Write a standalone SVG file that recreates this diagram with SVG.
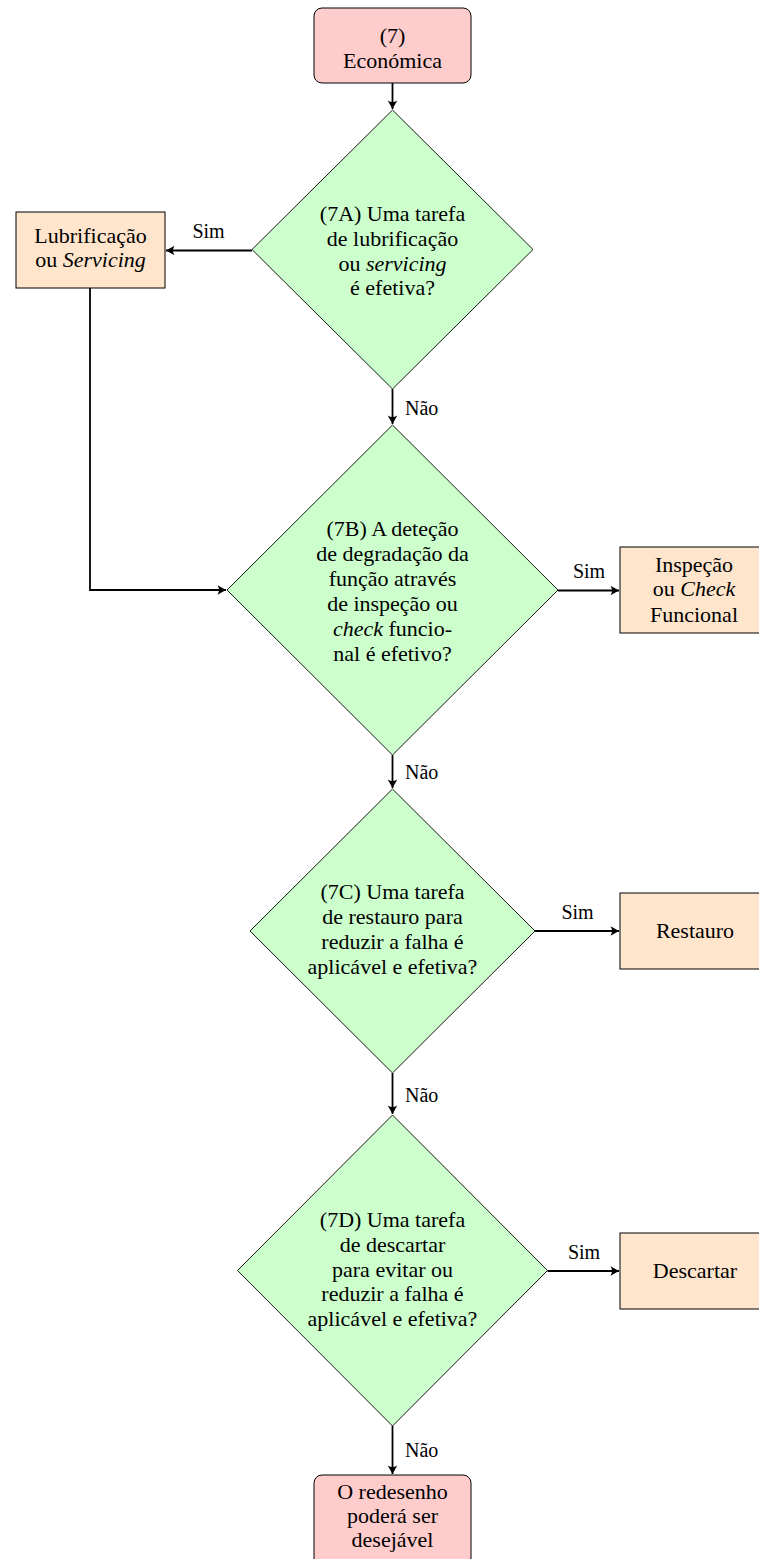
<svg xmlns="http://www.w3.org/2000/svg" width="759" height="1559" viewBox="0 0 759 1559">
<style>
.term{fill:#FFCCCC;stroke:#000;stroke-width:1}
.proc{fill:#FFE5CC;stroke:#000;stroke-width:1}
.dec{fill:#CCFFCC;stroke:#000;stroke-width:0.9}
text{font-family:"Liberation Serif","Times New Roman",serif;font-size:22px;fill:#000;text-anchor:middle}
.lbl{font-size:20px;text-anchor:start}
.lblc{font-size:20px}
.it{font-style:italic}
.conn{fill:none;stroke:#000;stroke-width:1.8}
</style>
<defs>
<marker id="ah" markerUnits="userSpaceOnUse" markerWidth="12" markerHeight="12" viewBox="-10 -6 12 12" refX="0" refY="0" orient="auto">
<path d="M0,0 L-8.5,-4.8 Q-5.5,0 -8.5,4.8 Z" fill="#000"/>
</marker>
</defs>
<g id="connectors">
<path class="conn" d="M392.5,83 V109" marker-end="url(#ah)"/>
<path class="conn" d="M252,250.5 H166" marker-end="url(#ah)"/>
<path class="conn" d="M392.5,389 V424" marker-end="url(#ah)"/>
<path class="conn" d="M90,288 V590 H226" marker-end="url(#ah)"/>
<path class="conn" d="M558,590.5 H619" marker-end="url(#ah)"/>
<path class="conn" d="M392.5,755 V788" marker-end="url(#ah)"/>
<path class="conn" d="M535,931 H619" marker-end="url(#ah)"/>
<path class="conn" d="M392.5,1073 V1114" marker-end="url(#ah)"/>
<path class="conn" d="M547.5,1271 H619" marker-end="url(#ah)"/>
<path class="conn" d="M392.5,1426 V1474" marker-end="url(#ah)"/>
<text class="lblc" x="208.5" y="238">Sim</text>
<text class="lbl" x="405" y="415">Não</text>
<text class="lblc" x="589" y="577.5">Sim</text>
<text class="lbl" x="405" y="779">Não</text>
<text class="lblc" x="577.5" y="919">Sim</text>
<text class="lbl" x="405" y="1102">Não</text>
<text class="lblc" x="584" y="1259">Sim</text>
<text class="lbl" x="405" y="1457">Não</text>
</g>
<g id="n7">
<rect class="term" x="314" y="8" width="157" height="75" rx="8"/>
<text x="392.5" y="43">(7)</text>
<text x="392.5" y="68">Económica</text>
</g>
<g id="n7A">
<polygon class="dec" points="392.5,110 533,249.5 392.5,389 252,249.5"/>
<text x="392.5" y="221">(7A) Uma tarefa</text>
<text x="392.5" y="246">de lubrificação</text>
<text x="392.5" y="270.5">ou <tspan class="it">servicing</tspan></text>
<text x="392.5" y="295">é efetiva?</text>
</g>
<g id="nLub">
<rect class="proc" x="16" y="212" width="149" height="76"/>
<text x="90.5" y="243">Lubrificação</text>
<text x="90.5" y="267">ou <tspan class="it">Servicing</tspan></text>
</g>
<g id="n7B">
<polygon class="dec" points="392.5,425 558,590 392.5,755 227,590"/>
<text x="392.5" y="536">(7B) A deteção</text>
<text x="392.5" y="561">de degradação da</text>
<text x="392.5" y="586">função através</text>
<text x="392.5" y="610.5">de inspeção ou</text>
<text x="392.5" y="636"><tspan class="it">check</tspan> funcio-</text>
<text x="392.5" y="660.5">nal é efetivo?</text>
</g>
<g id="nInsp">
<rect class="proc" x="620" y="547" width="150" height="86"/>
<text x="694" y="572">Inspeção</text>
<text x="694" y="596">ou <tspan class="it">Check</tspan></text>
<text x="694" y="621.5">Funcional</text>
</g>
<g id="n7C">
<polygon class="dec" points="392.5,789 535,931 392.5,1073 250,931"/>
<text x="392.5" y="899">(7C) Uma tarefa</text>
<text x="392.5" y="924">de restauro para</text>
<text x="392.5" y="949">reduzir a falha é</text>
<text x="392.5" y="974">aplicável e efetiva?</text>
</g>
<g id="nRest">
<rect class="proc" x="620" y="893" width="150" height="76"/>
<text x="695" y="938">Restauro</text>
</g>
<g id="n7D">
<polygon class="dec" points="392.5,1115 547.5,1270.5 392.5,1426 237.5,1270.5"/>
<text x="392.5" y="1227">(7D) Uma tarefa</text>
<text x="392.5" y="1252">de descartar</text>
<text x="392.5" y="1276.5">para evitar ou</text>
<text x="392.5" y="1301">reduzir a falha é</text>
<text x="392.5" y="1326">aplicável e efetiva?</text>
</g>
<g id="nDesc">
<rect class="proc" x="620" y="1233" width="150" height="76"/>
<text x="695" y="1278">Descartar</text>
</g>
<g id="nRedes">
<rect class="term" x="314" y="1475" width="157" height="100" rx="8"/>
<text x="392.5" y="1499">O redesenho</text>
<text x="392.5" y="1523">poderá ser</text>
<text x="392.5" y="1547">desejável</text>
</g>
</svg>
